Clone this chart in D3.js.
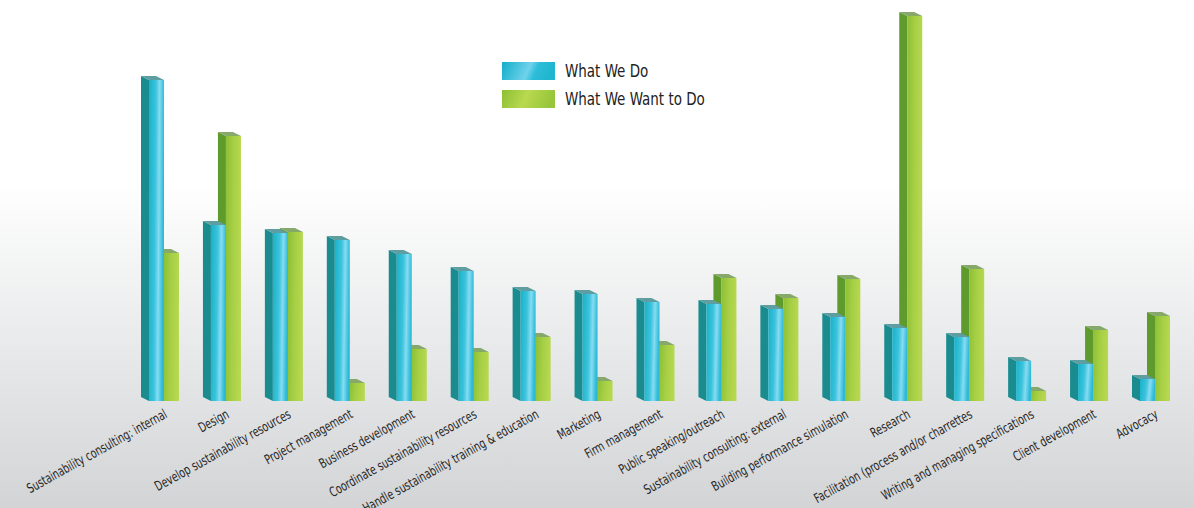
<!DOCTYPE html>
<html>
<head>
<meta charset="utf-8">
<script src="https://cdn.jsdelivr.net/npm/d3@7"></script>
<style>
  html, body { margin: 0; padding: 0; background: #fff; }
  svg { display: block; }
  .cat-label { font-family: "Liberation Sans Narrow", "DejaVu Sans Condensed", "DejaVu Sans", sans-serif; font-stretch: condensed; font-size: 13.5px; fill: #262626; }
  .legend-label { font-family: "Liberation Sans Narrow", "DejaVu Sans Condensed", "DejaVu Sans", sans-serif; font-stretch: condensed; font-size: 18px; fill: #222; }
</style>
</head>
<body>
<svg id="chart"></svg>
<script>
const categories = [
  "Sustainability consulting: internal",
  "Design",
  "Develop sustainability resources",
  "Project management",
  "Business development",
  "Coordinate sustainability resources",
  "Handle sustainability training & education",
  "Marketing",
  "Firm management",
  "Public speaking/outreach",
  "Sustainability consulting: external",
  "Building performance simulation",
  "Research",
  "Facilitation (process and/or charrettes",
  "Writing and managing specifications",
  "Client development",
  "Advocacy"
];

// bar heights (no axis on the original, arbitrary units)
const whatWeDo   = [321, 176, 168, 161, 147, 130, 110, 107, 99, 97, 92, 84, 73, 64, 40, 37, 22];
const whatWeWant = [148, 265, 169, 18, 52, 49, 64, 20, 56, 123, 103, 122, 385, 132, 10, 71, 85];

const seriesNames = ["What We Do", "What We Want to Do"];

const width = 1194, height = 508;
const side = 8, front = 15, depth = 4;

const svg = d3.select("#chart").attr("width", width).attr("height", height);
const defs = svg.append("defs");

const bg = defs.append("linearGradient").attr("id", "bg")
  .attr("x1", 0).attr("y1", 0).attr("x2", 0).attr("y2", 1);
bg.append("stop").attr("offset", "0%").attr("stop-color", "#ffffff");
bg.append("stop").attr("offset", "36%").attr("stop-color", "#ffffff");
bg.append("stop").attr("offset", "100%").attr("stop-color", "#d2d4d6");

function frontGradient(id, stops) {
  const g = defs.append("linearGradient").attr("id", id)
    .attr("x1", 0).attr("y1", 0).attr("x2", 1).attr("y2", 0.15);
  stops.forEach(([o, c]) => g.append("stop").attr("offset", o).attr("stop-color", c));
}
frontGradient("blueFront", [["0%", "#17b2c9"], ["45%", "#3cc3dc"], ["70%", "#86dcf2"], ["100%", "#2cbad6"]]);
frontGradient("greenFront", [["0%", "#8cbf34"], ["50%", "#a6cf45"], ["100%", "#b6d84e"]]);
frontGradient("blueSwatch", [["0%", "#12aec8"], ["55%", "#6fd2ec"], ["70%", "#2dbdd8"], ["100%", "#1fb6d0"]]);
frontGradient("greenSwatch", [["0%", "#8cbf34"], ["50%", "#b9d94f"], ["100%", "#97c63a"]]);

const colors = {
  blue:  { front: "url(#blueFront)",  side: "#1a8b8e", top: "#5e9ea0" },
  green: { front: "url(#greenFront)", side: "#5f9a2c", top: "#86a86a" }
};

svg.append("rect").attr("width", width).attr("height", height).attr("fill", "url(#bg)");

const x = d3.scalePoint().domain(categories).range([141, 1132]);
const y = d3.scaleLinear().domain([0, 400]).range([401, 1]);

function drawBox(g, x0, value, c) {
  const yt = y(value), base = y(0);
  g.append("polygon")
    .attr("points", [[x0, yt - depth], [x0 + side, yt], [x0 + side, base], [x0, base - depth]].join(" "))
    .attr("fill", c.side);
  g.append("polygon")
    .attr("points", [[x0, yt - depth], [x0 + front, yt - depth], [x0 + side + front, yt], [x0 + side, yt]].join(" "))
    .attr("fill", c.top);
  g.append("rect")
    .attr("x", x0 + side).attr("y", yt)
    .attr("width", front).attr("height", base - yt)
    .attr("fill", c.front);
}

const groups = svg.append("g").selectAll("g")
  .data(categories)
  .join("g");

groups.each(function(d, i) {
  const g = d3.select(this);
  const x0 = x(d);
  drawBox(g, x0 + front, whatWeWant[i], colors.green);
  drawBox(g, x0, whatWeDo[i], colors.blue);
});

// the original uses a condensed face; squeeze the fallback to the same run length
const labels = groups.append("g")
  .attr("transform", d => `translate(${x(d) + 27},417) rotate(-29)`)
  .append("text")
  .attr("class", "cat-label")
  .attr("text-anchor", "end")
  .text(d => d);

const refLen = labels.filter((d, i) => i === 0).node().getComputedTextLength();
const squeeze = Math.min(1, 158 / refLen);
labels.attr("transform", `scale(${squeeze},1)`);

const legend = svg.append("g").attr("transform", "translate(502,62)");
seriesNames.forEach((name, i) => {
  legend.append("rect")
    .attr("x", 0).attr("y", i * 28)
    .attr("width", 53).attr("height", 18)
    .attr("fill", i === 0 ? "url(#blueSwatch)" : "url(#greenSwatch)");
  legend.append("text")
    .attr("class", "legend-label")
    .attr("x", 63).attr("y", i * 28 + 15)
    .text(name);
});
const legendTexts = legend.selectAll("text");
const legLen = legendTexts.filter((d, i) => i === 1).node().getComputedTextLength();
const legSqueeze = Math.min(1, 140 / legLen);
legendTexts.attr("transform", `translate(63,0) scale(${legSqueeze},1) translate(-63,0)`);
</script>
</body>
</html>
